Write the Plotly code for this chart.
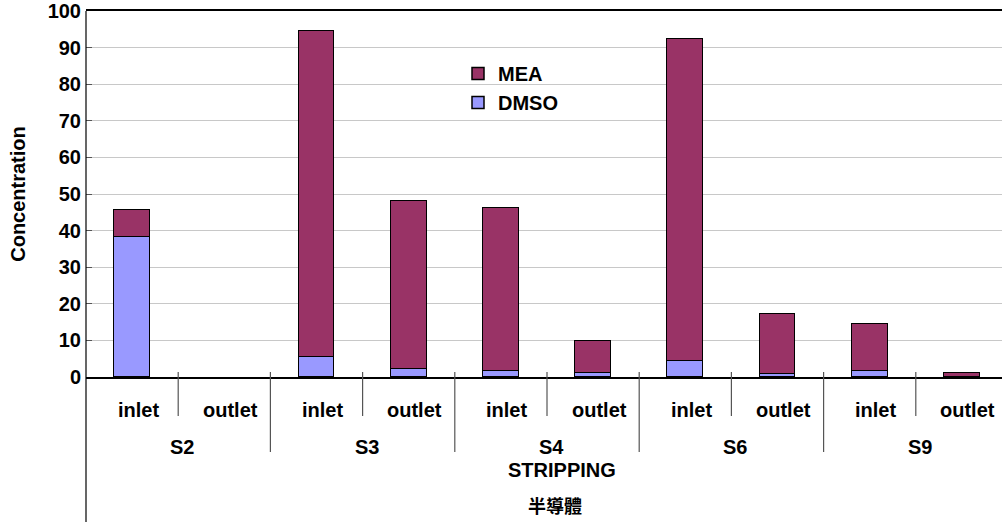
import plotly.graph_objects as go

# ---- data ----
sub_labels = ["inlet", "outlet", "inlet", "outlet", "inlet", "outlet", "inlet", "outlet", "inlet", "outlet"]
groups = ["S2", "S3", "S4", "S6", "S9"]
process_label = "STRIPPING"
industry_label = "半導體"
dmso = [38.2, None, 5.6, 2.3, 1.6, 1.1, 4.5, 0.7, 1.6, None]
mea = [7.3, None, 88.9, 45.7, 44.6, 8.8, 87.9, 16.4, 12.9, 1.2]
y_ticks = [0, 10, 20, 30, 40, 50, 60, 70, 80, 90, 100]

x = list(range(len(sub_labels)))
FONT = "Liberation Sans, Arial, sans-serif"
CJK = "Noto Sans CJK TC, Noto Sans CJK SC, sans-serif"

fig = go.Figure()
fig.add_trace(go.Bar(x=x, y=dmso, name="DMSO", width=0.39,
                     marker=dict(color="#9999FF", line=dict(color="#000000", width=1.5))))
fig.add_trace(go.Bar(x=x, y=mea, name="MEA", width=0.39,
                     marker=dict(color="#993366", line=dict(color="#000000", width=1.5))))

W, H = 1002, 522
PL, PT, PB = 86, 11, 377          # plot-area left/top/bottom in pixels
plot_h = PB - PT
cat_w = 92.2
L, T, B, R = PL, PT, H - PB, 0
x_max = -0.5 + (W - PL) / cat_w

def py(pix_y):
    return (PB - pix_y) / plot_h

def px(pix_x):
    return (pix_x - PL) / cat_w - 0.5

shapes = []
shapes.append(dict(type="line", xref="paper", yref="paper", x0=0, x1=0, y0=1, y1=py(H + 2),
                   line=dict(color="#000000", width=1.2)))
for i in range(len(sub_labels) - 1):
    xb = i + 0.5
    long_sep = (i % 2 == 1)
    shapes.append(dict(type="line", xref="x", yref="paper", x0=xb, x1=xb,
                       y0=py(372), y1=py(452 if long_sep else 416),
                       line=dict(color="#555555", width=1.2)))

annotations = []
for i, lab in enumerate(sub_labels):
    annotations.append(dict(x=i, y=py(410), xref="x", yref="paper", text=lab, showarrow=False,
                            xshift=6, yanchor="middle",
                            font=dict(family=FONT, size=20, color="#000000", weight="bold")))
for g, lab in enumerate(groups):
    annotations.append(dict(x=2 * g + 0.5, y=py(447), xref="x", yref="paper", text=lab, showarrow=False,
                            xshift=4, yanchor="middle",
                            font=dict(family=FONT, size=20, color="#000000", weight="bold")))
annotations.append(dict(x=px(561.7), y=py(470), xref="x", yref="paper", text=process_label,
                        showarrow=False, yanchor="middle",
                        font=dict(family=FONT, size=20, color="#000000", weight="bold")))
annotations.append(dict(x=px(555), y=py(505), xref="x", yref="paper", text=industry_label,
                        showarrow=False, yanchor="middle",
                        font=dict(family=CJK, size=18, color="#000000", weight="bold")))

fig.update_layout(
    width=W, height=H,
    margin=dict(l=L, r=R, t=T, b=B, autoexpand=False),
    barmode="stack",
    paper_bgcolor="#FFFFFF", plot_bgcolor="#FFFFFF",
    font=dict(family=FONT, size=20, color="#000000"),
    showlegend=True,
    legend=dict(x=(458 - PL) / (W - PL), y=py(54), xanchor="left", yanchor="top",
                traceorder="reversed", bgcolor="rgba(0,0,0,0)",
                font=dict(family=FONT, size=20, color="#000000", weight="bold"),
                itemwidth=30, tracegroupgap=0),
    xaxis=dict(range=[-0.5, x_max], showticklabels=False, showgrid=False, zeroline=False,
               showline=True, linecolor="#000000", linewidth=1.5, mirror=True, ticks="",
               automargin=False),
    yaxis=dict(range=[0, 100], tickvals=y_ticks, showgrid=True, gridcolor="#C8C8C8", gridwidth=1.2,
               zeroline=False, showline=False, ticks="inside", ticklen=6, tickcolor="#555555",
               tickfont=dict(family=FONT, size=20, color="#000000", weight="bold"),
               ticklabelstandoff=4, automargin=False, ticklabeloverflow="allow",
               title=dict(text="Concentration", standoff=16,
                          font=dict(family=FONT, size=20, color="#000000", weight="bold"))),
    shapes=shapes,
    annotations=annotations,
    bargap=0,
)

fig.write_html("out.html",
               config={"displayModeBar": False},
               post_script="document.body.style.margin='0';document.body.style.padding='0';")
